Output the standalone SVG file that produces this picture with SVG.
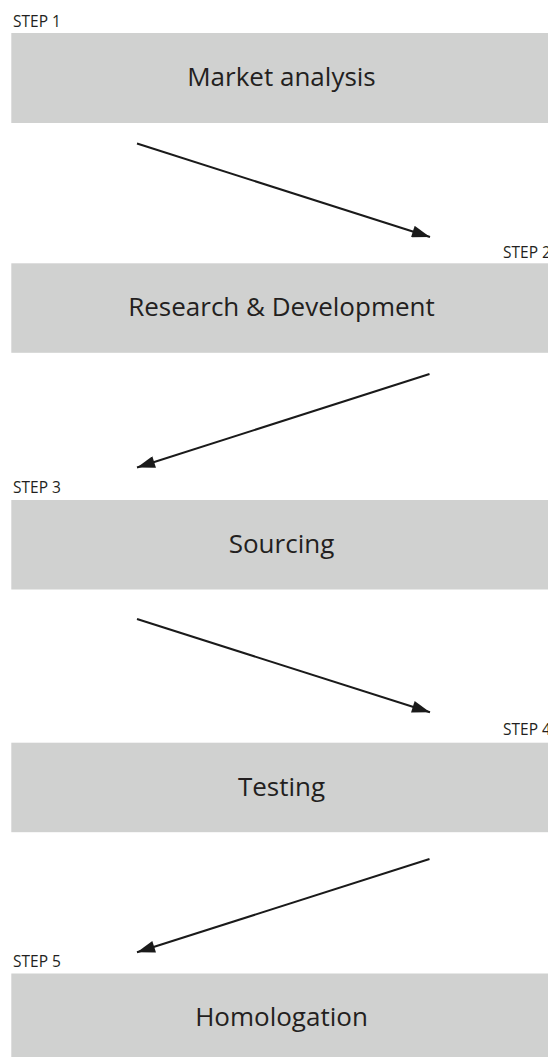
<svg xmlns="http://www.w3.org/2000/svg" width="548" height="1057" viewBox="0 0 548 1057">
<style>
.box{fill:#d0d1d0;}
.lbl{font-family:"Open Sans","Liberation Sans",sans-serif;font-size:26px;fill:#231f20;text-anchor:middle;}
.step{font-family:"Open Sans","Liberation Sans",sans-serif;font-size:15.5px;fill:#231f20;}
.conn{stroke:#1a1a1a;stroke-width:2;fill:none;marker-end:url(#ah);}
</style>
<defs>
<marker id="ah" markerUnits="userSpaceOnUse" markerWidth="20" markerHeight="12" viewBox="0 0 18 12" refX="18" refY="6" orient="auto">
<path d="M0,0 L18,6 L0,12 Z" fill="#1a1a1a"/>
</marker>
</defs>
<rect width="548" height="1057" fill="#ffffff"/>
<g id="step1">
<text class="step" x="13" y="26.5">STEP 1</text>
<rect class="box" x="11.3" y="33" width="545" height="90"/>
<text class="lbl" x="281.5" y="86">Market analysis</text>
</g>
<g id="step2">
<text class="step" x="503" y="257.5">STEP 2</text>
<rect class="box" x="11.3" y="263.3" width="545" height="89.5"/>
<text class="lbl" x="281.5" y="316">Research &amp; Development</text>
</g>
<g id="step3">
<text class="step" x="13" y="492.7">STEP 3</text>
<rect class="box" x="11.3" y="500" width="545" height="89.5"/>
<text class="lbl" x="281.5" y="553">Sourcing</text>
</g>
<g id="step4">
<text class="step" x="503" y="735">STEP 4</text>
<rect class="box" x="11.3" y="742.7" width="545" height="89.5"/>
<text class="lbl" x="281.5" y="795.5">Testing</text>
</g>
<g id="step5">
<text class="step" x="13" y="966.5">STEP 5</text>
<rect class="box" x="11.3" y="973.5" width="545" height="90"/>
<text class="lbl" x="281.5" y="1026">Homologation</text>
</g>
<g id="connectors">
<line class="conn" x1="137" y1="143.5" x2="430" y2="237"/>
<line class="conn" x1="429.5" y1="374" x2="137" y2="467.5"/>
<line class="conn" x1="137" y1="619" x2="430" y2="712.3"/>
<line class="conn" x1="429.5" y1="859" x2="137" y2="952.3"/>
</g>
</svg>
